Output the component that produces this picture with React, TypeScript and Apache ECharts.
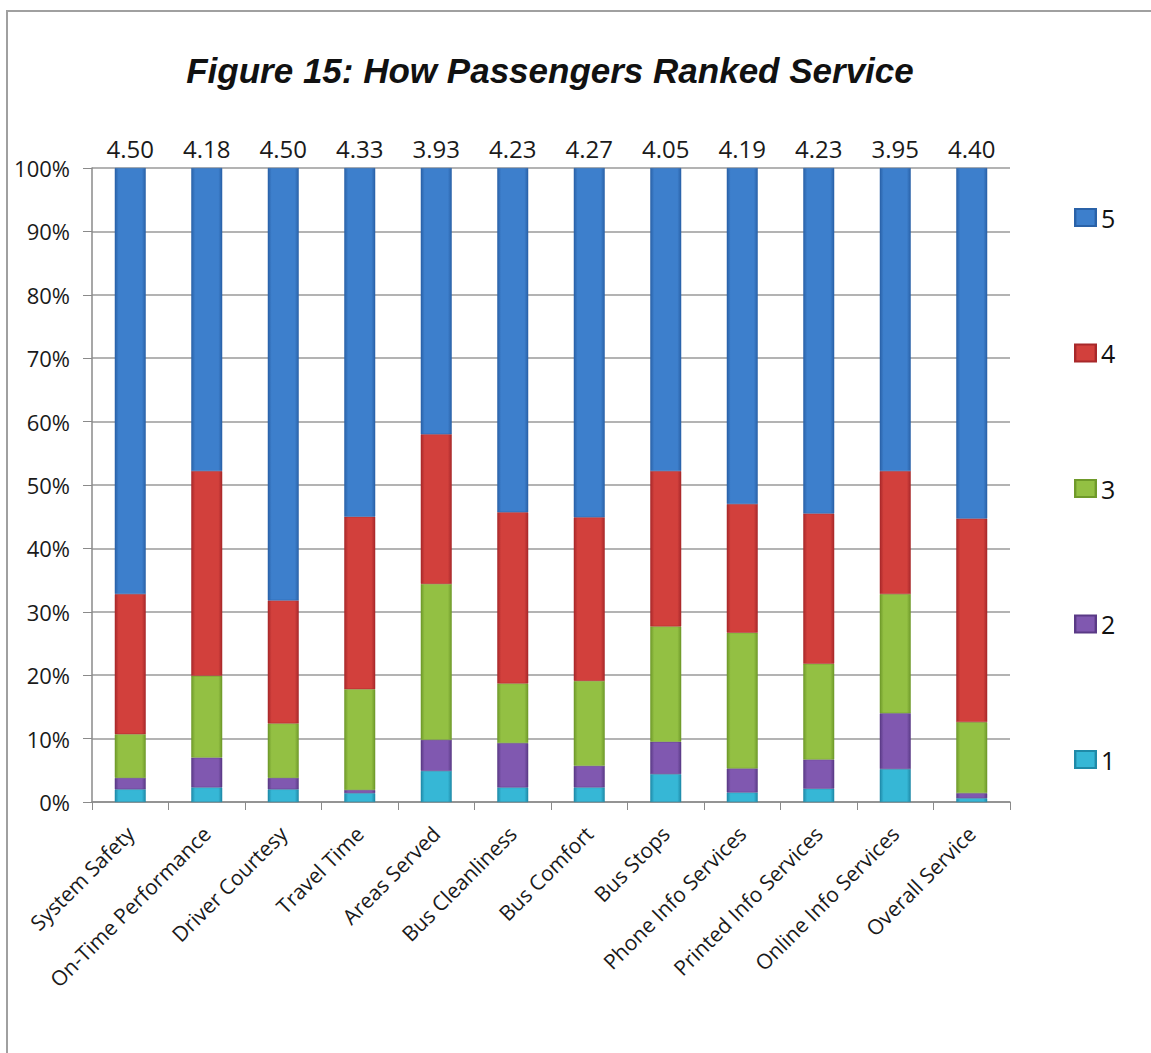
import React, { useEffect, useRef } from "react";
import * as echarts from "echarts";

const categories = [
  "System Safety",
  "On-Time Performance",
  "Driver Courtesy",
  "Travel Time",
  "Areas Served",
  "Bus Cleanliness",
  "Bus Comfort",
  "Bus Stops",
  "Phone Info Services",
  "Printed Info Services",
  "Online Info Services",
  "Overall Service",
];
const rating1 = [2.0, 2.3, 2.0, 1.4, 4.9, 2.3, 2.3, 4.4, 1.5, 2.1, 5.2, 0.6];
const rating2 = [1.8, 4.7, 1.8, 0.5, 4.9, 7.0, 3.4, 5.1, 3.8, 4.6, 8.8, 0.8];
const rating3 = [6.9, 12.9, 8.6, 15.9, 24.6, 9.4, 13.4, 18.2, 21.4, 15.1, 18.8, 11.2];
const rating4 = [22.1, 32.3, 19.4, 27.2, 23.6, 27.0, 25.8, 24.5, 20.3, 23.7, 19.4, 32.1];
const rating5 = [67.2, 47.8, 68.2, 55.0, 42.0, 54.3, 55.1, 47.8, 53.0, 54.5, 47.8, 55.3];
const averages = ["4.50", "4.18", "4.50", "4.33", "3.93", "4.23", "4.27", "4.05", "4.19", "4.23", "3.95", "4.40"];
const seriesNames = ["1", "2", "3", "4", "5"];
const legendOrder = ["5", "4", "3", "2", "1"];

const FONT = "'Open Sans', 'Noto Sans', sans-serif";

function grad(dark: string, light: string) {
  return new echarts.graphic.LinearGradient(0, 0, 1, 0, [
    { offset: 0, color: dark },
    { offset: 0.12, color: light },
    { offset: 0.88, color: light },
    { offset: 1, color: dark },
  ]);
}

const palettes = [
  ["#1f8aa8", "#36b7d6"],
  ["#5a3a86", "#8058b0"],
  ["#6f9a2a", "#93c043"],
  ["#a8282a", "#d2403c"],
  ["#2a62a8", "#3d7fcc"],
];

export default function App() {
  const ref = useRef<HTMLDivElement>(null);
  useEffect(() => {
    if (!ref.current) return;
    const chart = echarts.init(ref.current, undefined, { renderer: "svg" });
    const data = [rating1, rating2, rating3, rating4, rating5];
    const series: any[] = data.map((d, i) => ({
      name: seriesNames[i],
      type: "bar",
      stack: "total",
      barWidth: 31,
      data: d,
      itemStyle: {
        color: grad(palettes[i][0], palettes[i][1]),
        borderColor: palettes[i][0],
        borderWidth: 0.5,
      },
      label:
        i === 4
          ? {
              show: true,
              position: "top",
              distance: 8,
              formatter: (p: any) => averages[p.dataIndex],
              fontSize: 24,
              color: "#1a1a1a",
              fontFamily: FONT,
            }
          : { show: false },
    }));
    chart.setOption({
      animation: false,
      backgroundColor: "#ffffff",
      title: {
        text: "Figure 15: How Passengers Ranked Service",
        left: 545,
        textAlign: "center",
        top: 48,
        textStyle: {
          fontFamily: "'Liberation Sans', Arial, sans-serif",
          fontStyle: "italic",
          fontWeight: "bold",
          fontSize: 35,
          color: "#111",
        },
      },
      graphic: [
        {
          type: "rect",
          shape: { x: 7, y: 11, width: 1170, height: 1070 },
          style: { fill: "none", stroke: "#a0a0a0", lineWidth: 2 },
          silent: true,
        },
      ],
      legend: {
        data: legendOrder,
        orient: "vertical",
        left: 1069,
        top: 200,
        icon: "rect",
        itemWidth: 21,
        itemHeight: 17,
        itemGap: 110.5,
        textStyle: { fontSize: 25, color: "#111", fontFamily: FONT },
      },
      grid: { left: 92, right: 141, top: 168, bottom: 251 },
      xAxis: {
        type: "category",
        data: categories,
        axisLine: { lineStyle: { color: "#8a8a8a", width: 1.5 } },
        axisTick: { show: true, alignWithLabel: false, length: 8, lineStyle: { color: "#8a8a8a" } },
        axisLabel: {
          rotate: 45,
          interval: 0,
          fontSize: 21,
          color: "#1a1a1a",
          fontFamily: FONT,
          margin: 28,
        },
      },
      yAxis: {
        type: "value",
        min: 0,
        max: 100,
        interval: 10,
        axisLine: { show: true, lineStyle: { color: "#8a8a8a", width: 1.5 } },
        axisTick: { show: true, length: 9, lineStyle: { color: "#8a8a8a" } },
        splitLine: { lineStyle: { color: "#9a9a9a", width: 1.5 } },
        axisLabel: {
          formatter: "{value}%",
          fontSize: 22,
          color: "#1a1a1a",
          fontFamily: FONT,
          margin: 22,
        },
      },
      series,
    });
    return () => chart.dispose();
  }, []);
  return (
    <div
      ref={ref}
      style={{ position: "fixed", left: 0, top: 0, width: 1151, height: 1053, background: "#fff" }}
    />
  );
}
